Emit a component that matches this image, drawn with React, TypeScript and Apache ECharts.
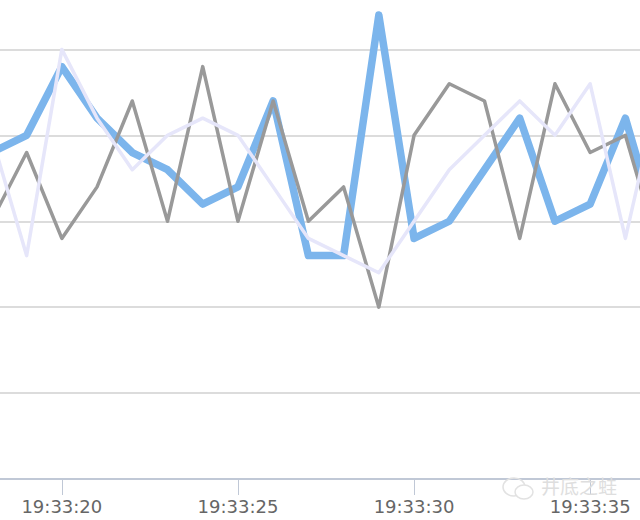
import React, { useEffect, useRef } from "react";
import * as echarts from "echarts";

const times = ["19:33:18","19:33:19","19:33:20","19:33:21","19:33:22","19:33:23","19:33:24","19:33:25","19:33:26","19:33:27","19:33:28","19:33:29","19:33:30","19:33:31","19:33:32","19:33:33","19:33:34","19:33:35","19:33:36","19:33:37"];
const blueValues = [19,20,24,21,19,18,16,17,22,13,13,27,14,15,18,21,15,16,21,14];
const grayValues = [15,19,14,17,22,15,24,15,22,15,17,10,20,23,22,14,23,19,20,13];
const lavenderValues = [20,13,25,21,18,20,21,20,17,14,13,12,15,18,20,22,20,23,14,23];
const watermark = "井底之蛙";

const tickEvery = (i: number) => i % 5 === 2;

export default function App() {
  const ref = useRef<HTMLDivElement>(null);
  useEffect(() => {
    document.body.style.margin = "0";
    const chart = echarts.init(ref.current!, undefined, { renderer: "svg" });
    const line = (name: string, data: number[], color: string, width: number, z: number) => ({
      name, type: "line", data, symbol: "none", smooth: false, z,
      lineStyle: { color, width, join: "round", cap: "round" },
    });
    chart.setOption({
      animation: false,
      backgroundColor: "#ffffff",
      grid: { left: -8.6, right: -20.6, top: -36.5, bottom: 41, outerBoundsMode: "none" },
      xAxis: {
        type: "category",
        boundaryGap: false,
        data: times,
        axisLine: { show: true, lineStyle: { color: "#c0c8d6", width: 2 } },
        axisTick: { show: true, interval: (i: number) => tickEvery(i), length: 16, lineStyle: { color: "#c0c8d6", width: 1 } },
        axisLabel: { interval: (i: number) => tickEvery(i), color: "#666666", fontSize: 18, fontFamily: "'DejaVu Sans', sans-serif", margin: 18, hideOverlap: false },
        splitLine: { show: false },
      },
      yAxis: {
        type: "value",
        min: 0,
        max: 30,
        interval: 5,
        axisLine: { show: false },
        axisTick: { show: false },
        axisLabel: { show: false },
        splitLine: { lineStyle: { color: "#dcdcdc", width: 2 } },
      },
      series: [
        line("B", blueValues, "#7cb5ec", 7.5, 2),
        line("A", grayValues, "#999999", 3.5, 3),
        line("C", lavenderValues, "#e6e6fa", 3.5, 4),
      ],
      graphic: [
        { type: "ellipse", shape: { cx: 514, cy: 487, rx: 11, ry: 9 }, style: { fill: "none", stroke: "#e2e2e2", lineWidth: 1.5 }, z: 10 },
        { type: "ellipse", shape: { cx: 524, cy: 492, rx: 9, ry: 7 }, style: { fill: "#ffffff", stroke: "#e2e2e2", lineWidth: 1.5 }, z: 11 },
        { type: "text", x: 541, y: 476, z: 12, style: { text: watermark, fontSize: 19, lineHeight: 19, fontFamily: "'Noto Sans CJK SC'", fill: "#dedede" } },
      ],
    });
    return () => chart.dispose();
  }, []);
  return <div ref={ref} style={{ position: "fixed", left: 0, top: 0, width: 640, height: 520 }} />;
}
